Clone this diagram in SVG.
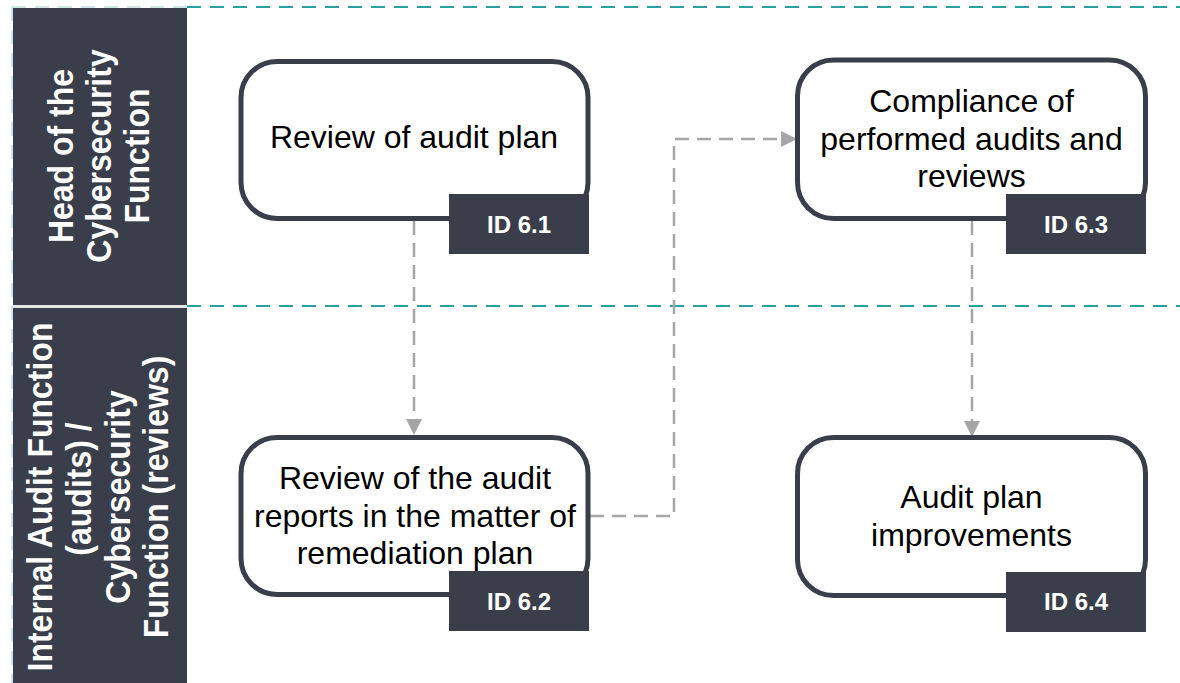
<svg xmlns="http://www.w3.org/2000/svg" width="1180" height="683" viewBox="0 0 1180 683">
<style>
.lane{fill:#393e4a}
.lanetxt{font-family:"Liberation Sans",Arial,sans-serif;font-size:32px;font-weight:bold;fill:#ffffff;text-anchor:middle}
.box{fill:#ffffff;stroke:#393e4a;stroke-width:5}
.txt{font-family:"Liberation Sans",Arial,sans-serif;font-size:32px;fill:#000000;text-anchor:middle}
.tag{fill:#393e4a}
.tagtxt{font-family:"Liberation Sans",Arial,sans-serif;font-size:24px;font-weight:bold;fill:#ffffff;text-anchor:middle}
.sep{fill:none;stroke:#2a9fa0;stroke-width:2;stroke-dasharray:14 9}
.sepl{fill:none;stroke:#bfdede;stroke-width:1.5;stroke-dasharray:14 9}
.conn{fill:none;stroke:#a6a6a6;stroke-width:2.5;stroke-dasharray:14 8}
</style>
<defs>
<marker id="arr" viewBox="0 0 16 16" refX="8" refY="8" markerWidth="16" markerHeight="16" markerUnits="userSpaceOnUse" orient="auto">
<path d="M0,0 L16,8 L0,16 z" fill="#a6a6a6"/>
</marker>
</defs>
<rect x="0" y="0" width="1180" height="683" fill="#ffffff"/>
<g id="lanes">
<line class="sepl" x1="12" y1="7" x2="187" y2="7"/>
<line class="sepl" x1="12" y1="7" x2="12" y2="683"/>
<line class="sep" x1="187" y1="7" x2="1180" y2="7"/>
<line class="sep" x1="187" y1="306" x2="1180" y2="306"/>
<g id="lane1">
<rect class="lane" x="13" y="8" width="174" height="297"/>
<text class="lanetxt" transform="translate(73,156) scale(1.08,1) rotate(-90)">Head of the</text>
<text class="lanetxt" transform="translate(111,156) scale(1.08,1) rotate(-90)">Cybersecurity</text>
<text class="lanetxt" transform="translate(149,156) scale(1.08,1) rotate(-90)">Function</text>
</g>
<rect x="13" y="305" width="174" height="3" fill="#e4e6ea"/>
<g id="lane2">
<rect class="lane" x="13" y="308" width="174" height="375"/>
<text class="lanetxt" transform="translate(52,497) scale(1.08,1) rotate(-90)">Internal Audit Function</text>
<text class="lanetxt" transform="translate(91,489) scale(1.08,1) rotate(-90)">(audits) /</text>
<text class="lanetxt" transform="translate(130,497) scale(1.08,1) rotate(-90)">Cybersecurity</text>
<text class="lanetxt" transform="translate(168,497) scale(1.08,1) rotate(-90)">Function (reviews)</text>
</g>
</g>
<g id="connectors">
<path class="conn" d="M414,221 L414,427" marker-end="url(#arr)"/>
<path class="conn" d="M590,516 L674,516 L674,139 L789,139" marker-end="url(#arr)"/>
<path class="conn" d="M972,221 L972,429" marker-end="url(#arr)"/>
</g>
<g id="node-6-1">
<rect class="box" x="241" y="61.5" width="347" height="157" rx="36"/>
<text class="txt" x="414" y="148">Review of audit plan</text>
<rect class="tag" x="449" y="194" width="140" height="60"/>
<text class="tagtxt" x="519" y="233">ID 6.1</text>
</g>
<g id="node-6-2">
<rect class="box" x="241" y="437.5" width="347" height="157" rx="36"/>
<text class="txt" x="415" y="489">Review of the audit</text>
<text class="txt" x="415" y="527">reports in the matter of</text>
<text class="txt" x="415" y="564">remediation plan</text>
<rect class="tag" x="449" y="571" width="140" height="60"/>
<text class="tagtxt" x="519" y="610">ID 6.2</text>
</g>
<g id="node-6-3">
<rect class="box" x="797.5" y="60" width="348" height="158.5" rx="36"/>
<text class="txt" x="971.5" y="112">Compliance of</text>
<text class="txt" x="971.5" y="149.5">performed audits and</text>
<text class="txt" x="971.5" y="187">reviews</text>
<rect class="tag" x="1006" y="194" width="140" height="60"/>
<text class="tagtxt" x="1076" y="233">ID 6.3</text>
</g>
<g id="node-6-4">
<rect class="box" x="797.5" y="437.5" width="348" height="158" rx="36"/>
<text class="txt" x="971.5" y="508">Audit plan</text>
<text class="txt" x="971.5" y="546">improvements</text>
<rect class="tag" x="1006" y="572" width="140" height="60"/>
<text class="tagtxt" x="1076" y="610">ID 6.4</text>
</g>
</svg>
